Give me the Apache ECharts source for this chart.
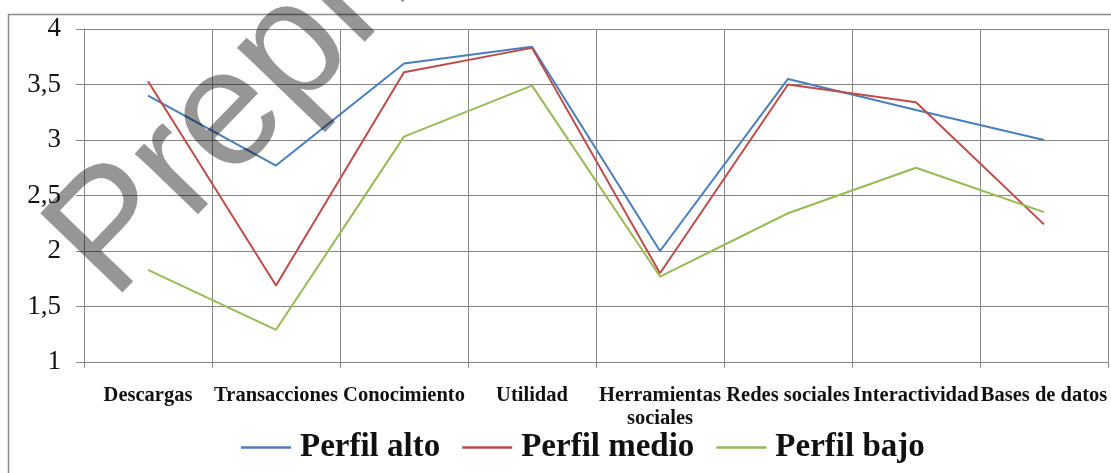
<!DOCTYPE html>
<html>
<head>
<meta charset="utf-8">
<script src="https://cdn.jsdelivr.net/npm/echarts@6/dist/echarts.min.js"></script>
<style>
  html, body { margin: 0; padding: 0; background: #ffffff; }
  #chart { width: 1111px; height: 473px; }
</style>
</head>
<body>
<div id="chart"></div>
<script>
// Categories evaluated for each user profile
const categories = [
  'Descargas', 'Transacciones', 'Conocimiento', 'Utilidad',
  'Herramientas\nsociales', 'Redes sociales', 'Interactividad', 'Bases de datos'
];

// Mean scores per profile
const perfilAlto  = [3.40, 2.77, 3.69, 3.84, 2.00, 3.55, 3.27, 3.00];
const perfilMedio = [3.53, 1.69, 3.61, 3.83, 1.80, 3.50, 3.34, 2.24];
const perfilBajo  = [1.83, 1.29, 3.03, 3.49, 1.77, 2.34, 2.75, 2.35];

const seriesNames = ['Perfil alto', 'Perfil medio', 'Perfil bajo'];

const gridColor = '#878787';
const serif = '"Liberation Serif", "DejaVu Serif", serif';

const chart = echarts.init(document.getElementById('chart'), null, { renderer: 'canvas' });

function lineSeries(name, data, color) {
  return {
    name: name,
    type: 'line',
    data: data,
    showSymbol: false,
    symbol: 'none',
    smooth: false,
    lineStyle: { color: color, width: 2 },
    itemStyle: { color: color },
    emphasis: { disabled: true },
    z: 3
  };
}

// watermark placement: baseline start point and angle, anchored at the text's middle
const wmSize = 166;
const wmAngle = 46 * Math.PI / 180;
const wmBase = [116, 305];
const wmUp = [-Math.sin(wmAngle), -Math.cos(wmAngle)];
const wmMid = [wmBase[0] + wmUp[0] * 0.3 * wmSize, wmBase[1] + wmUp[1] * 0.3 * wmSize];

chart.setOption({
  animation: false,
  backgroundColor: '#ffffff',
  grid: { left: 84, right: 3, top: 29, bottom: 111, containLabel: false },
  xAxis: {
    type: 'category',
    data: categories,
    boundaryGap: true,
    axisLine: { show: true, lineStyle: { color: gridColor, width: 1 } },
    axisTick: { show: true, length: 6, alignWithLabel: false, lineStyle: { color: gridColor } },
    splitLine: { show: true, lineStyle: { color: gridColor, width: 1 } },
    axisLabel: {
      interval: 0,
      margin: 22,
      color: '#111111',
      fontFamily: serif,
      fontWeight: 'bold',
      fontSize: 20.5,
      lineHeight: 23
    }
  },
  yAxis: {
    type: 'value',
    min: 1,
    max: 4,
    interval: 0.5,
    axisLine: { show: true, lineStyle: { color: gridColor, width: 1 } },
    axisTick: { show: true, length: 8, lineStyle: { color: gridColor } },
    splitLine: { show: true, lineStyle: { color: gridColor, width: 1 } },
    axisLabel: {
      margin: 23,
      color: '#111111',
      fontFamily: serif,
      fontSize: 27,
      formatter: v => String(v).replace('.', ',')
    }
  },
  legend: {
    data: seriesNames,
    left: 236,
    top: 426,
    icon: 'rect',
    itemWidth: 50,
    itemHeight: 2.5,
    itemGap: 22,
    selectedMode: false,
    textStyle: {
      fontFamily: serif,
      fontWeight: 'bold',
      fontSize: 33,
      color: '#111111',
      padding: [0, 0, 0, 4]
    }
  },
  graphic: [
    {
      // outer chart-area frame
      type: 'rect',
      silent: true,
      shape: { x: 8.5, y: 14.5, width: 1110, height: 470 },
      style: { fill: 'none', stroke: '#8a8a8a', lineWidth: 1.5 },
      z: 0
    },
    {
      // diagonal watermark
      type: 'text',
      silent: true,
      x: wmMid[0],
      y: wmMid[1],
      rotation: wmAngle,
      style: {
        text: 'Preprint',
        font: wmSize + 'px "Liberation Sans", Arial, sans-serif',
        fill: 'rgba(0,0,0,0.41)',
        align: 'left',
        verticalAlign: 'middle'
      },
      z: 100
    }
  ],
  series: [
    lineSeries(seriesNames[0], perfilAlto, '#4a7ebb'),
    lineSeries(seriesNames[1], perfilMedio, '#be4b48'),
    lineSeries(seriesNames[2], perfilBajo, '#98b954')
  ]
});
</script>
</body>
</html>
